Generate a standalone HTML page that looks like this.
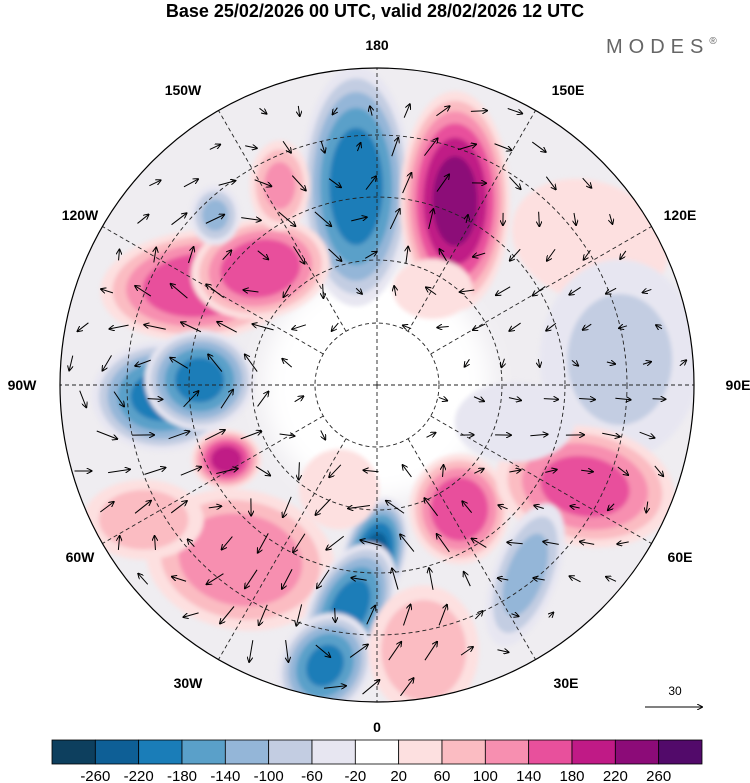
<!DOCTYPE html>
<html><head><meta charset="utf-8">
<style>
html,body{margin:0;padding:0;background:#fff;}
body{width:750px;height:783px;position:relative;overflow:hidden;font-family:"Liberation Sans",sans-serif;}
#title{position:absolute;top:1px;left:0;width:750px;text-align:center;font-weight:bold;font-size:18px;}
#logo{position:absolute;top:36px;left:606px;font-size:20px;letter-spacing:6px;color:#666;}
</style></head><body>
<div id="title">Base 25/02/2026 00 UTC, valid 28/02/2026 12 UTC</div>
<div id="logo">MODES<span style="font-size:10px;vertical-align:top;letter-spacing:0">®</span></div>
<svg id="map" width="750" height="783" style="position:absolute;left:0;top:0"></svg>
<script>
const levels=[-260,-220,-180,-140,-100,-60,-20,20,60,100,140,180,220,260];
const colors=["#0d3f5e","#0e5f96","#1a7db8","#5aa0c9","#94b6d8","#c3cde2","#e7e6f1","#ffffff","#fde0e0","#fbbcc2","#f78fb0","#e8509c","#c01a86","#8c0b78","#520a6a"];
// anomaly centres: longitude (deg E), distance from pole (fraction of radius), peak value, half-sizes, rotation
const blobLon=[124,96,-174,157,-119.5,-135,-87,-91.6,-63.7,-38,-1,-7,-10.5,33.6,64,38,-136.4,-154,10,-60,75,150,-20];
const blobDist=[0.81,0.77,0.63,0.63,0.64,0.52,0.68,0.56,0.53,0.70,0.54,0.71,0.90,0.47,0.73,0.76,0.74,0.70,0.85,0.85,0.45,0.35,0.35];
const blobVal=[60,-70,-210,240,180,180,-200,-200,200,140,-240,-200,-190,180,160,-120,-110,110,100,90,-60,50,40];
const blobRx=[80,80,55,55,100,70,70,55,35,95,32,40,45,50,90,32,25,30,55,60,60,40,40];
const blobRy=[60,100,120,110,55,50,55,50,30,70,60,70,55,55,60,75,30,45,65,40,40,30,40];
const blobRot=[20,0,0,0,-5,-10,0,0,0,10,15,25,30,0,10,20,0,0,0,0,0,0,0];

const NS="http://www.w3.org/2000/svg";
const svg=document.getElementById('map');
const cx=377,cy=385,R=317;
function polar(lon,d){const a=lon*Math.PI/180;return [cx+d*R*Math.sin(a),cy+d*R*Math.cos(a)];}
function mk(t,at,p){const e=document.createElementNS(NS,t);for(const k in at)e.setAttribute(k,at[k]);(p||svg).appendChild(e);return e;}
function colorFor(v){let i=0;while(i<levels.length&&v>levels[i])i++;return colors[i];}

const defs=mk('defs',{});
const cp=mk('clipPath',{id:'cc'},defs);mk('circle',{cx,cy,r:R},cp);
const f=mk('filter',{id:'bl',x:'-50%',y:'-50%',width:'200%',height:'200%'},defs);mk('feGaussianBlur',{stdDeviation:2},f);
const f2=mk('filter',{id:'bl2',x:'-50%',y:'-50%',width:'200%',height:'200%'},defs);mk('feGaussianBlur',{stdDeviation:12},f2);
const mk2=mk('marker',{id:'ah',markerWidth:6,markerHeight:6,refX:5,refY:3,orient:'auto'},defs);mk('path',{d:'M0,0 L6,3 L0,6',fill:'none',stroke:'#000','stroke-width':1},mk2);

const g=mk('g',{'clip-path':'url(#cc)'});


mk('circle',{cx,cy,r:R,fill:'#efedf1'},g);
mk('circle',{cx,cy,r:R*0.36,fill:'#ffffff',filter:'url(#bl2)'},g);
const fg=mk('g',{filter:'url(#bl)'},g);
blobVal.forEach((v,i)=>{
  const [x,y]=polar(blobLon[i],blobDist[i]);
  const av=Math.abs(v),sg=Math.sign(v);
  for(let L=20;L<av;L+=40){
    const s=Math.sqrt(1-(L-20)/av);
    const e=mk('ellipse',{cx:x,cy:y,rx:blobRx[i]*s,ry:blobRy[i]*s,fill:colorFor(sg*(L+1)),transform:`rotate(${blobRot[i]} ${x} ${y})`},fg);
    
    
  }
});
// graticule
[62,125,188,250].forEach(r=>mk('circle',{cx,cy,r,fill:'none',stroke:'#222','stroke-width':0.9,'stroke-dasharray':'4,3'},g));
for(let lon=0;lon<360;lon+=30){const [x,y]=polar(lon,1);const [x0,y0]=polar(lon,lon%90===0?0:62/R);mk('line',{x1:x0,y1:y0,x2:x,y2:y,stroke:'#222','stroke-width':0.9,'stroke-dasharray':'4,3'},g);}
// wind arrows: rotation around anomaly centres
const ag=mk('g',{},g);
for(let gx=70;gx<690;gx+=36)for(let gy=75;gy<700;gy+=36){
  const px=gx+((gy/36)%2)*12,py=gy;
  if(Math.hypot(px-cx,py-cy)>R-8||Math.hypot(px-cx,py-cy)<60)continue;
  let u=0.2,w=0;
  blobVal.forEach((v,i)=>{const [x,y]=polar(blobLon[i],blobDist[i]);const dx=px-x,dy=py-y,d2=dx*dx+dy*dy,k=v*Math.exp(-d2/9000)/100;u+=-dy/60*k;w+=dx/60*k;});
  const m=Math.hypot(u,w)||1,len=Math.min(22,5+m*8);
  const a=mk('line',{x1:px-u/m*len/2,y1:py-w/m*len/2,x2:px+u/m*len/2,y2:py+w/m*len/2,stroke:'#000','stroke-width':1,'marker-end':'url(#ah)'},ag);
  
  
}
mk('circle',{cx,cy,r:R,fill:'none',stroke:'#000','stroke-width':1.2});
// labels
const lonLabels=["0","30E","60E","90E","120E","150E","180","150W","120W","90W","60W","30W"];
const labX=[377,566,680,738,680,568,377,183,80,22,80,188];
const labY=[732,688,562,390,220,95,50,95,220,390,562,688];
lonLabels.forEach((t,i)=>{const e=mk('text',{x:labX[i],y:labY[i],'text-anchor':'middle','font-size':14,'font-weight':'bold','font-family':'Liberation Sans,sans-serif'});e.textContent=t;

});
// reference arrow
const ra=mk('text',{x:675,y:695,'text-anchor':'middle','font-size':12,'font-family':'Liberation Sans,sans-serif'});ra.textContent='30';


mk('line',{x1:645,y1:707,x2:702,y2:707,stroke:'#000','stroke-width':1,'marker-end':'url(#ah)'});
// colorbar
const x0=52,bw=650/15;
colors.forEach((c,i)=>{const r=mk('rect',{x:x0+i*bw,y:740,width:bw,height:24,fill:c,stroke:'#000','stroke-width':0.8});

});
levels.forEach((l,i)=>{const t=mk('text',{x:x0+(i+1)*bw,y:781,'text-anchor':'middle','font-size':15,'font-family':'Liberation Sans,sans-serif'});t.textContent=l;

});
</script>
</body></html>
